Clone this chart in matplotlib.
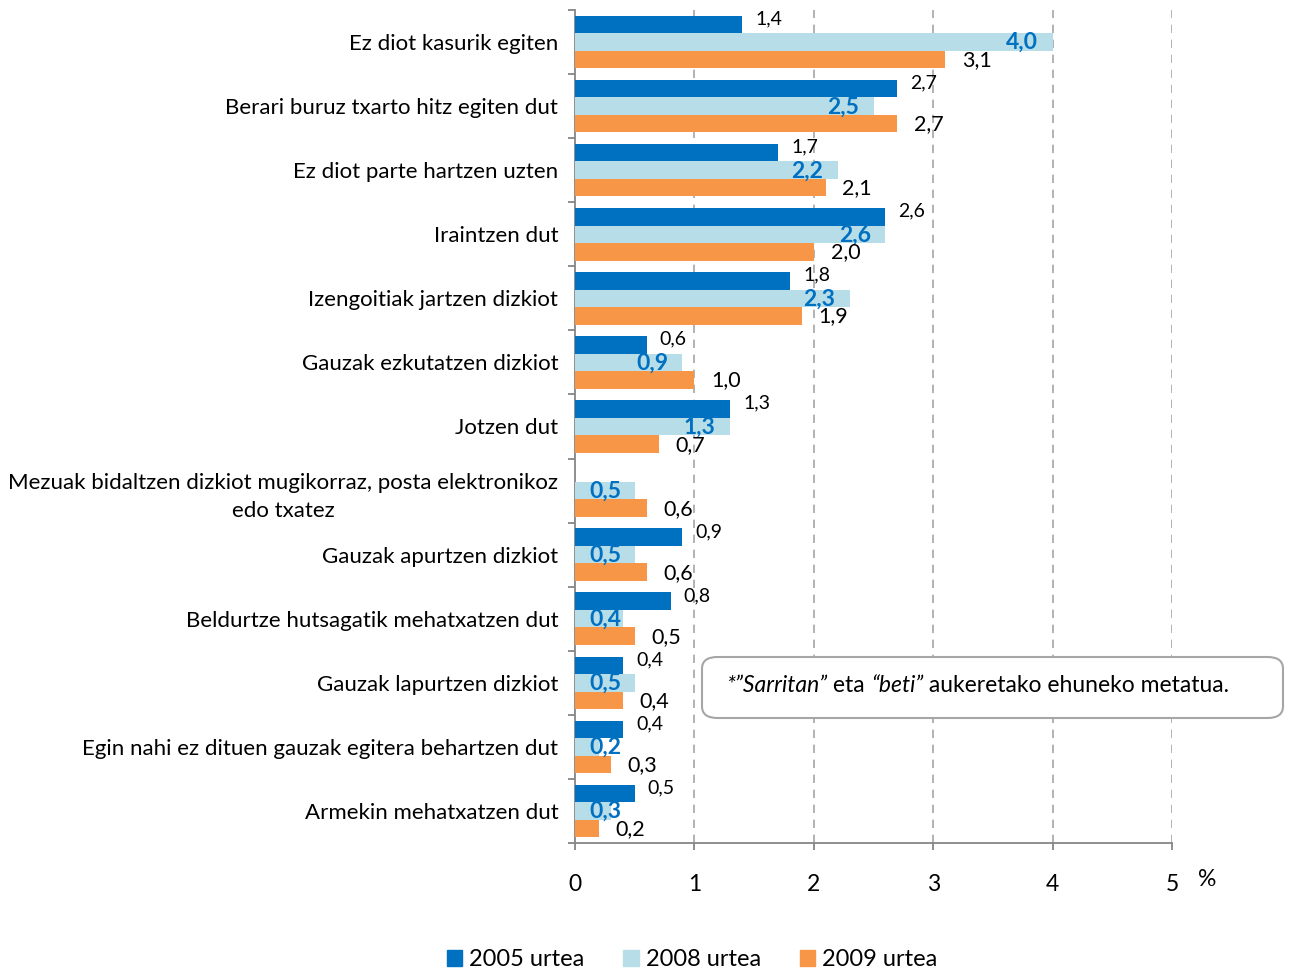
import numpy as np
import matplotlib
matplotlib.use("Agg")
import matplotlib.pyplot as plt
from matplotlib.patches import FancyBboxPatch, Rectangle

plt.rcParams['font.family'] = ['Lato', 'DejaVu Sans']

categories = [
    "Ez diot kasurik egiten",
    "Berari buruz txarto hitz egiten dut",
    "Ez diot parte hartzen uzten",
    "Iraintzen dut",
    "Izengoitiak jartzen dizkiot",
    "Gauzak ezkutatzen dizkiot",
    "Jotzen dut",
    "Mezuak bidaltzen dizkiot mugikorraz, posta elektronikoz\nedo txatez",
    "Gauzak apurtzen dizkiot",
    "Beldurtze hutsagatik mehatxatzen dut",
    "Gauzak lapurtzen dizkiot",
    "Egin nahi ez dituen gauzak egitera behartzen dut",
    "Armekin mehatxatzen dut",
]
v2005 = [1.4, 2.7, 1.7, 2.6, 1.8, 0.6, 1.3, np.nan, 0.9, 0.8, 0.4, 0.4, 0.5]
v2008 = [4.0, 2.5, 2.2, 2.6, 2.3, 0.9, 1.3, 0.5, 0.5, 0.4, 0.5, 0.2, 0.3]
v2009 = [3.1, 2.7, 2.1, 2.0, 1.9, 1.0, 0.7, 0.6, 0.6, 0.5, 0.4, 0.3, 0.2]
series_names = ["2005 urtea", "2008 urtea", "2009 urtea"]
xticks = [0, 1, 2, 3, 4, 5]

c2005 = "#0070C0"
c2008 = "#B7DEE8"
c2009 = "#F79646"
gray = "#868686"

fig = plt.figure(figsize=(12.9, 9.73), dpi=100)
ax = fig.add_axes([575/1290, 1-843/973, (1172-575)/1290, (843-10)/973])

n = len(categories)
y = np.arange(n)
bh = 0.273

ax.barh(y - bh, v2005, height=bh, color=c2005, zorder=3)
ax.barh(y, v2008, height=bh, color=c2008, zorder=3)
ax.barh(y + bh, v2009, height=bh, color=c2009, zorder=3)

def fmt(v):
    return f"{v:.1f}".replace(".", ",")

for i in range(n):
    a, b, c = v2005[i], v2008[i], v2009[i]
    if not np.isnan(a):
        ax.text(a + 0.11, y[i] - bh - 0.09, fmt(a), ha='left', va='center',
                fontsize=14, color='black', zorder=5)
    ax.text(max(b - 0.12, 0.39), y[i] + 0.01, fmt(b), ha='right', va='center',
            fontsize=16.5, color=c2005, fontweight='bold', zorder=5)
    ax.text(c + 0.14, y[i] + bh + 0.01, fmt(c), ha='left', va='center',
            fontsize=15.5, color='black', zorder=5)

ax.set_xlim(0, 5)
ax.set_ylim(n - 0.5, -0.5)

for xv in xticks[1:]:
    ax.axvline(xv, color='#A6A6A6', linestyle=(0, (5, 4)), linewidth=1.2, zorder=1)

for s in ['top', 'right']:
    ax.spines[s].set_visible(False)
for s in ['left', 'bottom']:
    ax.spines[s].set_color(gray)
    ax.spines[s].set_linewidth(1.3)

ax.set_yticks(y)
ax.set_yticklabels(categories, fontsize=16)
for lab in ax.get_yticklabels():
    lab.set_multialignment('center')
    lab.set_linespacing(1.5)
ax.set_yticks(np.arange(-0.5, n + 0.5, 1), minor=True)
ax.tick_params(axis='y', which='major', length=0, pad=12)
ax.tick_params(axis='y', which='minor', length=5, width=1.3, color=gray, direction='out')

ax.set_xticks(xticks)
ax.set_xticklabels([str(t) for t in xticks], fontsize=16.5)
ax.tick_params(axis='x', which='major', length=5, width=1.3, color=gray, direction='out', pad=17)

fig.text(1207/1290, 1-880/973, "%", ha='center', va='center', fontsize=16.5)

# Note box
box = FancyBboxPatch((702/1290, 1-718/973), (1283-702)/1290, (718-657)/973,
                     boxstyle="round,pad=0,rounding_size=0.012",
                     transform=fig.transFigure, facecolor='white',
                     edgecolor='#A6A6A6', linewidth=1.5, zorder=10)
fig.patches.append(box)

pieces = [("*\u201dSarritan\u201d", 'italic'), (" eta ", 'normal'),
          ("\u201cbeti\u201d", 'italic'), (" aukeretako ehuneko metatua.", 'normal')]
fig.canvas.draw()
renderer = fig.canvas.get_renderer()
xpix = 726
ypix = 973 - 685
for txt, style in pieces:
    t = fig.text(xpix/1290, ypix/973, txt, ha='left', va='center', fontsize=16.5,
                 style=style, zorder=11)
    bb = t.get_window_extent(renderer=renderer)
    xpix = bb.x1

# Legend
handles = [Rectangle((0, 0), 1, 1, color=c) for c in (c2005, c2008, c2009)]
fig.legend(handles, series_names, loc='center', bbox_to_anchor=(692/1290, 1-960/973),
           ncol=3, frameon=False, fontsize=17, handlelength=0.65, handleheight=0.65,
           handletextpad=0.3, columnspacing=1.65)

fig.savefig("out.png", dpi=100)
